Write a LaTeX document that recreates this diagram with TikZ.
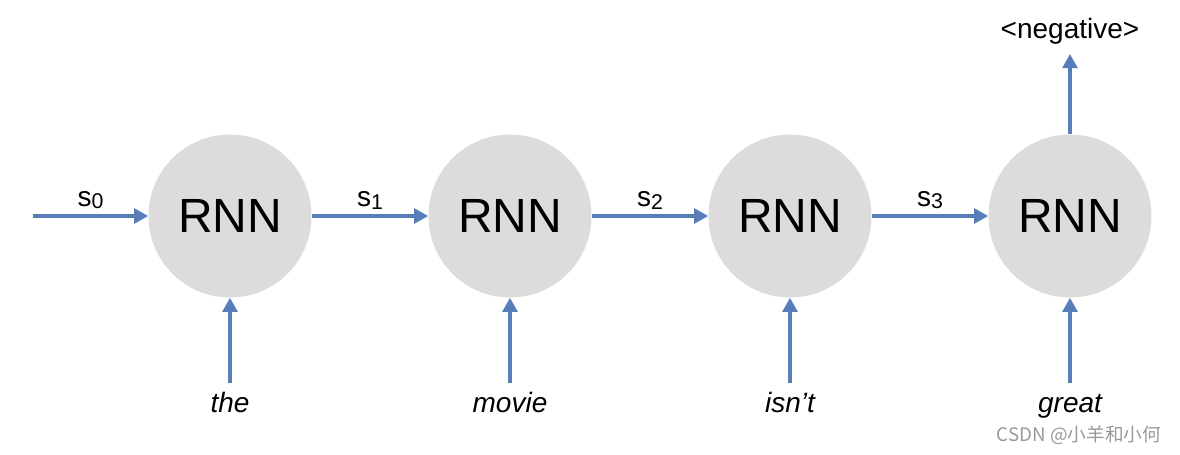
\documentclass[tikz,border=0pt]{standalone}
\usepackage{fontspec}
\setmainfont{Liberation Sans}
\newfontfamily\cjkfont{Noto Sans CJK SC}
\usepackage{xcolor}
\usetikzlibrary{arrows.meta, positioning}

\definecolor{linkblue}{RGB}{88,126,186}
\definecolor{cellgray}{RGB}{220,220,220}
\newcommand{\stidx}[1]{\raisebox{-0.1em}{\fontsize{16}{16}\selectfont #1}}

\tikzset{
    rnncell/.style={circle, fill=cellgray, minimum size=163*0.75pt, inner sep=0pt,
        font=\fontsize{36}{36}\selectfont},
    link/.style={line width=2.4pt, draw=linkblue,
        -{Triangle[length=10.5pt, width=11pt]}},
    word/.style={font=\fontsize{21}{21}\selectfont\itshape, inner sep=0pt},
    state/.style={font=\fontsize{21}{21}\selectfont, inner sep=0pt}
}

\begin{document}
\begin{tikzpicture}[x=0.75pt, y=-0.75pt]
\useasboundingbox (0,0) rectangle (1180,454);

% RNN cells
\node[rnncell] (r0) at (230,216) {RNN};
\node[rnncell] (r1) at (510,216) {RNN};
\node[rnncell] (r2) at (790,216) {RNN};
\node[rnncell] (r3) at (1070,216) {RNN};

% Input words
\node[word, anchor=base] (w0) at (230,412) {the};
\node[word, anchor=base] (w1) at (510,412) {movie};
\node[word, anchor=base] (w2) at (790,412) {isn’t};
\node[word, anchor=base] (w3) at (1070,412) {great};
\coordinate (in0) at (230,383);
\coordinate (in1) at (510,383);
\coordinate (in2) at (790,383);
\coordinate (in3) at (1070,383);

% Hidden states
\coordinate (start) at (33,216);
\draw[link] (start) -- node[state, above=4pt] {s\stidx{0}} (r0);
\draw[link] (r0) -- node[state, above=4pt] {s\stidx{1}} (r1);
\draw[link] (r1) -- node[state, above=4pt] {s\stidx{2}} (r2);
\draw[link] (r2) -- node[state, above=4pt] {s\stidx{3}} (r3);

% Inputs into cells
\draw[link] (in0) -- (r0);
\draw[link] (in1) -- (r1);
\draw[link] (in2) -- (r2);
\draw[link] (in3) -- (r3);

% Output
\node[state, anchor=south, inner sep=7pt] (out) at (1070,54) {<negative>};
\draw[link] (r3) -- (out.south);

% Watermark
\node[font=\cjkfont\fontsize{14}{14}\selectfont, text=black!40, anchor=base] (mark) at (1079,441) {CSDN @小羊和小何};

\end{tikzpicture}
\end{document}
